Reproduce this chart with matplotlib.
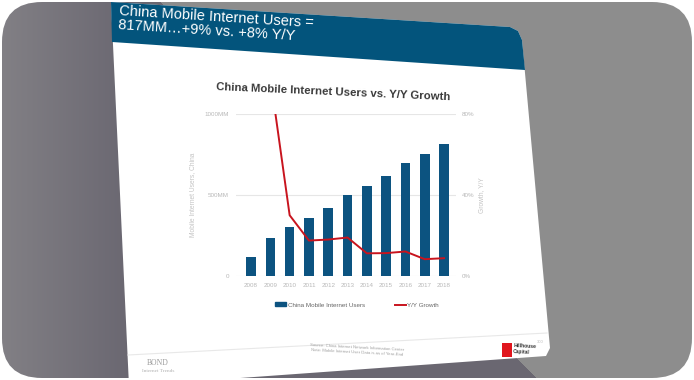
import numpy as np
import matplotlib
matplotlib.use('Agg')
import matplotlib.pyplot as plt
from matplotlib.patches import FancyBboxPatch, Polygon, Rectangle, Patch
from matplotlib.lines import Line2D

# data
years = ['2008', '2009', '2010', '2011', '2012', '2013', '2014', '2015', '2016', '2017', '2018']
users_mm = [118, 233, 303, 356, 420, 500, 557, 620, 695, 753, 817]
growth_years = years[1:]
growth_pct = [98, 30, 17.5, 18, 19, 11.2, 11.3, 12.1, 8.3, 8.8]
user_ticks = [0, 500, 1000]
user_ticklabels = ['0', '500MM', '1000MM']
growth_ticks = [0, 40, 80]
growth_ticklabels = ['0%', '40%', '80%']

bar_c = '#0c5380'
head_c = '#03547c'
red_c = '#c8141e'

plt.rcParams['font.family'] = ['Liberation Sans', 'DejaVu Sans']

W, H = 694, 380
fig = plt.figure(figsize=(W / 100, H / 100), dpi=100)
fig.patch.set_facecolor('white')

# background: rounded grey frame + tilted slide
bg = fig.add_axes([0, 0, 1, 1])
bg.axis('off')
frame = FancyBboxPatch((2, 2), W - 4, H - 4, boxstyle='round,pad=0,rounding_size=40',
                       fc='none', ec='none')
bg.add_patch(frame)
xx, yy = np.meshgrid(np.arange(W), np.arange(H))
c0 = np.array([0x82, 0x80, 0x85]) / 255
c1 = np.array([0x6a, 0x67, 0x71]) / 255
c2 = np.array([0x8d, 0x8d, 0x8d]) / 255
t = np.clip(xx / 130, 0, 1)[..., None]
shade = (1 - t) * c0 + t * c1
img = np.where((xx < 159 + yy)[..., None], shade, c2)
im = bg.imshow(img, extent=(0, W, H, 0), aspect='auto', interpolation='bilinear')
im.set_clip_path(frame)

slide = [(111, 2), (510, 27), (518, 31), (522, 40), (550, 348), (546, 356), (129, 386)]
bg.add_patch(Polygon(slide, closed=True, fc='white', ec='none'))
header = [(111, 2), (510, 27), (518, 31), (522, 40), (525, 70), (112, 42)]
bg.add_patch(Polygon(header, closed=True, fc=head_c, ec='none'))
bg.text(120, 4, 'China Mobile Internet Users =\n817MM\u2026+9% vs. +8% Y/Y', color='white',
        fontsize=10.5, rotation=-3.6, rotation_mode='anchor', ha='left', va='top',
        linespacing=1.05)
bg.text(333, 92, 'China Mobile Internet Users vs. Y/Y Growth', color='#3a3a3a',
        fontsize=8.2, fontweight='bold', rotation=-2.5, rotation_mode='anchor',
        ha='center', va='center')

# footer
bg.plot([128, 547], [355, 333], color='#e8e8e8', lw=0.8)
bg.text(357, 350, 'Source: China Internet Network Information Center\n'
        'Note: Mobile Internet User Data is as of Year-End',
        fontsize=3.1, color='#a0a0a0', ha='center', va='center', rotation=-3)
bg.text(158, 363, 'BOND', family='Liberation Serif', fontsize=5.5, color='#9a9a9a',
        ha='center', va='center')
bg.text(158, 371, 'Internet Trends', family='Liberation Serif', fontsize=3.8,
        color='#b0b0b0', ha='center', va='center')
bg.add_patch(Rectangle((502, 343), 10, 14, fc='#e0161e', ec='none'))
bg.text(513, 349, 'Hillhouse\nCapital', fontsize=3.6, fontweight='bold', color='#333333',
        ha='left', va='center', rotation=-3, linespacing=1.1)
bg.text(537, 342, '300', fontsize=3, color='#bbbbbb', ha='left', va='center')
bg.set_xlim(0, W)
bg.set_ylim(H, 0)

# chart
ax = fig.add_axes([236 / W, 1 - 276 / H, (456 - 236) / W, (276 - 114) / H])
ax.set_facecolor('none')
x = np.arange(len(years))
ax.bar(x, users_mm, width=0.5, color=bar_c, zorder=3)
ax.set_xlim(-0.78, 10.62)
ax.set_ylim(0, 1000)
ax.set_xticks(x)
ax.set_xticklabels(years)
ax.set_yticks(user_ticks)
ax.set_yticklabels(user_ticklabels)
ax.yaxis.grid(True, color='#e6e6e6', lw=0.8, zorder=0)
ax.set_axisbelow(True)
ax.tick_params(length=0, labelsize=4.5, labelcolor='#b8b8b8', pad=5)
for s in ax.spines.values():
    s.set_visible(False)
ax.set_ylabel('Mobile Internet Users, China', fontsize=4.8, color='#c4c4c4', labelpad=6)

ax2 = ax.twinx()
gx = [years.index(y) for y in growth_years]
ax2.plot(gx, growth_pct, color=red_c, lw=1.4, zorder=4)
ax2.set_ylim(0, 80)
ax2.set_yticks(growth_ticks)
ax2.set_yticklabels(growth_ticklabels)
ax2.tick_params(length=0, labelsize=4.5, labelcolor='#b8b8b8', pad=4)
for s in ax2.spines.values():
    s.set_visible(False)
ax2.set_ylabel('Growth, Y/Y', fontsize=4.8, color='#c4c4c4', labelpad=3)

handles = [Patch(color=bar_c), Line2D([], [], color=red_c, lw=1.4)]
fig.legend(handles, ['China Mobile Internet Users', 'Y/Y Growth'], loc='center',
           bbox_to_anchor=(357 / W, 1 - 305 / H), ncol=2, frameon=False, fontsize=4.5,
           columnspacing=4.8, handlelength=1.8, handleheight=0.6, handletextpad=0.2,
           labelcolor='#666666')

fig.savefig('out.png', dpi=100)
